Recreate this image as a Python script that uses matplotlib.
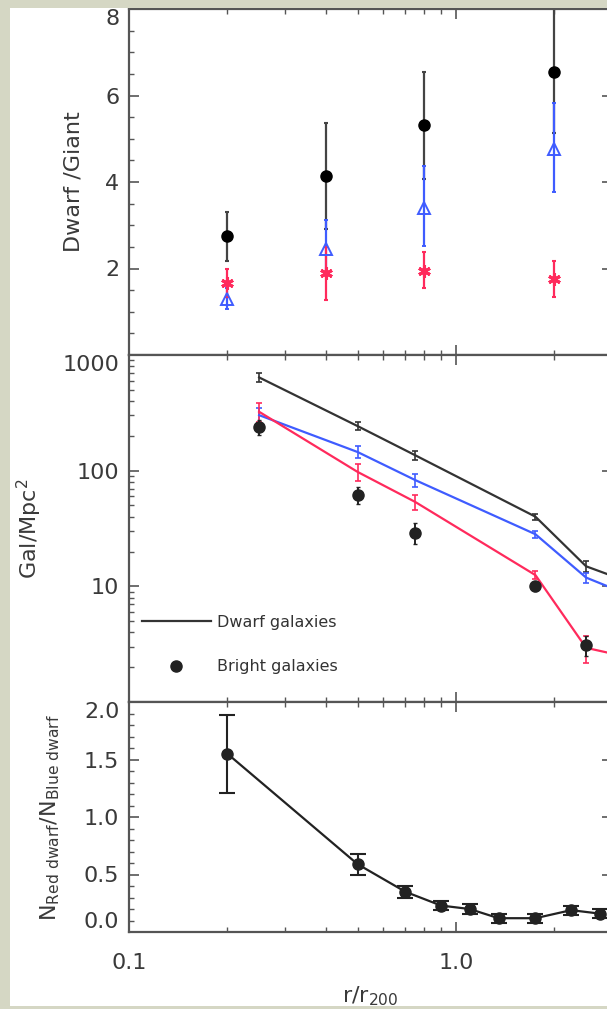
import numpy as np
import matplotlib
matplotlib.use("Agg")
import matplotlib.pyplot as plt
from matplotlib.patches import Rectangle
from matplotlib.ticker import FixedLocator, FixedFormatter, MultipleLocator, NullFormatter

plt.rcParams['font.family'] = ['DejaVu Sans']

# top panel: dwarf/giant ratio
x_ratio = [0.2, 0.4, 0.8, 2.0]
all_ratio = [2.74, 4.15, 5.31, 6.54]
all_lo = [2.17, 2.92, 4.08, 5.13]
all_hi = [3.30, 5.37, 6.54, 8.30]
blue_ratio = [1.29, 2.44, 3.41, 4.76]
blue_lo = [1.06, 1.89, 2.52, 3.78]
blue_hi = [1.55, 3.12, 4.37, 5.83]
red_ratio = [1.67, 1.89, 1.95, 1.76]
red_lo = [1.35, 1.27, 1.54, 1.35]
red_hi = [2.00, 2.50, 2.37, 2.18]

# middle panel: surface density
x_dens = [0.25, 0.5, 0.75, 1.75, 2.5, 3.5]
dwarf_dens = [640, 243, 136, 40, 14.9, 10.5]
dwarf_err = [60, 20, 12, 2.5, 1.5, 1.0]
blue_dens = [302, 145, 83, 28.2, 11.9, 8.1]
blue_err = [45, 17, 11, 2.0, 1.2, 1.0]
red_dens = [323, 97.6, 53.7, 12.5, 2.94, 2.38]
red_err = [60, 16, 8, 1.0, 0.75, 0.5]
x_bright = [0.25, 0.5, 0.75, 1.75, 2.5]
bright_dens = [240, 62, 29.2, 10.1, 3.1]
bright_lo = [205, 52, 23.4, 9.2, 2.5]
bright_hi = [274, 72, 35.4, 11.0, 3.7]

# bottom panel: red/blue dwarf ratio
x_frac = [0.2, 0.5, 0.7, 0.9, 1.1, 1.35, 1.75, 2.25, 2.75]
frac = [1.55, 0.59, 0.35, 0.23, 0.20, 0.12, 0.12, 0.19, 0.16]
frac_err = [0.34, 0.09, 0.05, 0.04, 0.04, 0.04, 0.04, 0.04, 0.04]

x_major = [0.1, 1.0]
x_major_labels = ["0.1", "1.0"]
x_minor = [0.2, 0.3, 0.4, 0.5, 0.6, 0.7, 0.8, 0.9, 2.0, 3.0]

c_blue = '#3f5cff'
c_red = '#ff2a5c'
c_axis = '#555555'
c_text = '#3a3a3a'
c_band = '#d5d7c4'

fig = plt.figure(figsize=(6.07, 10.09), dpi=100)
fig.patch.set_facecolor('white')
# grey frame around the picture (drawn above the axes, it clips the edges)
fig.patches.append(Rectangle((0, 0), 10/607, 1, transform=fig.transFigure,
                             facecolor=c_band, edgecolor='none', zorder=20))
fig.patches.append(Rectangle((0, 1 - 8/1009), 1, 8/1009, transform=fig.transFigure,
                             facecolor=c_band, edgecolor='none', zorder=20))
fig.patches.append(Rectangle((0, 0), 1, 3/1009, transform=fig.transFigure,
                             facecolor=c_band, edgecolor='none', zorder=20))

left = 129/607
width = 483/607
ax1 = fig.add_axes([left, (1009-355)/1009, width, 346/1009])
ax2 = fig.add_axes([left, (1009-702)/1009, width, 347/1009], sharex=ax1)
ax3 = fig.add_axes([left, (1009-932)/1009, width, 230/1009], sharex=ax1)

for ax in (ax1, ax2, ax3):
    ax.set_xscale('log')
    for s in ax.spines.values():
        s.set_color(c_axis)
        s.set_linewidth(1.6)
    ax.tick_params(which='both', direction='in', top=True, right=True,
                   colors=c_axis, labelcolor=c_text, labelsize=16, pad=7)
    ax.tick_params(which='major', length=7, width=1.2)
    ax.tick_params(which='minor', length=3.5, width=1.0)

ax1.xaxis.set_major_locator(FixedLocator(x_major))
ax1.xaxis.set_major_formatter(FixedFormatter(x_major_labels))
ax1.xaxis.set_minor_locator(FixedLocator(x_minor))
ax1.xaxis.set_minor_formatter(NullFormatter())
ax1.set_xlim(0.1, 3.0)

# panel 1
ek = dict(capsize=1.5, capthick=1.5, elinewidth=1.6, linestyle='none')
ax1.errorbar(x_ratio, all_ratio,
             yerr=[np.subtract(all_ratio, all_lo), np.subtract(all_hi, all_ratio)],
             fmt='o', color='#444444', mfc='black', mec='black', ms=8, **ek)
ax1.errorbar(x_ratio, blue_ratio,
             yerr=[np.subtract(blue_ratio, blue_lo), np.subtract(blue_hi, blue_ratio)],
             fmt='^', color=c_blue, mfc='none', mec=c_blue, ms=8, mew=1.4, **ek)
ax1.errorbar(x_ratio, red_ratio,
             yerr=[np.subtract(red_ratio, red_lo), np.subtract(red_hi, red_ratio)],
             fmt='none', color=c_red, **ek)
ax1.plot(x_ratio, red_ratio, linestyle='none', marker=(6, 2, 0), color=c_red, ms=9, mew=2.2)
ax1.set_ylim(0, 8)
ax1.yaxis.set_major_locator(FixedLocator([2, 4, 6, 8]))
ax1.yaxis.set_minor_locator(MultipleLocator(0.5))
ax1.set_ylabel("Dwarf /Giant", fontsize=16, color=c_text, va='center')
ax1.yaxis.set_label_coords(-0.114, 0.5)
ax1.tick_params(axis='x', labelbottom=False)

# panel 2
ek2 = dict(capsize=2.2, capthick=1.2, elinewidth=1.2)
ax2.errorbar(x_dens, dwarf_dens, yerr=dwarf_err, color='#333333', lw=1.6, **ek2, label='Dwarf galaxies')
ax2.errorbar(x_dens, blue_dens, yerr=blue_err, color=c_blue, lw=1.6, **ek2)
ax2.errorbar(x_dens, red_dens, yerr=red_err, color=c_red, lw=1.6, **ek2)
ax2.errorbar(x_bright, bright_dens,
             yerr=[np.subtract(bright_dens, bright_lo), np.subtract(bright_hi, bright_dens)],
             fmt='o', color='#222222', ms=8, capsize=1.5, elinewidth=1.4, linestyle='none',
             label='Bright galaxies')
ax2.set_yscale('log')
ax2.set_ylim(1, 1000)
ax2.yaxis.set_major_locator(FixedLocator([10, 100, 1000]))
ax2.yaxis.set_major_formatter(FixedFormatter(["10", "100", "1000"]))
ax2.yaxis.set_minor_locator(FixedLocator([k * 10**e for e in range(0, 3) for k in range(2, 10)]))
ax2.yaxis.set_minor_formatter(NullFormatter())
ax2.set_ylabel("Gal/Mpc$^2$", fontsize=16, color=c_text, va='center')
ax2.yaxis.set_label_coords(-0.207, 0.5)
ax2.tick_params(axis='x', labelbottom=False)
h, l = ax2.get_legend_handles_labels()
leg = ax2.legend([h[0][0], h[1][0]], l, loc='center left', bbox_to_anchor=(0.027, 0.166),
                 frameon=False, fontsize=11.5, handlelength=4.3, handletextpad=0.4,
                 labelspacing=1.85, borderpad=0, borderaxespad=0)
for t in leg.get_texts():
    t.set_color('#333333')

# panel 3
ax3.errorbar(x_frac, frac, yerr=frac_err, fmt='-o', color='#222222', ms=8, lw=1.6,
             capsize=5.5, capthick=1.5, elinewidth=1.5)
ax3.set_ylim(0, 2.0)
ax3.yaxis.set_major_locator(FixedLocator([0.0, 0.5, 1.0, 1.5, 2.0]))
ax3.yaxis.set_major_formatter(FixedFormatter(["0.0", "0.5", "1.0", "1.5", "2.0"]))
ax3.yaxis.set_minor_locator(MultipleLocator(0.1))
ax3.set_ylabel(r"N$_{\rm Red\ dwarf}$/N$_{\rm Blue\ dwarf}$", fontsize=16, color=c_text, va='center')
ax3.yaxis.set_label_coords(-0.164, 0.5)
ax3.tick_params(axis='x', pad=15)
ax3.set_xlabel("r/r$_{200}$", fontsize=16, color=c_text, labelpad=8)

# end labels sit inside the axis range, as in the original
fig.canvas.draw()
for ax in (ax1, ax2, ax3):
    ticks = ax.yaxis.get_major_ticks()
    ticks[-1].label1.set_va('top')
ax3.yaxis.get_major_ticks()[0].label1.set_va('bottom')

fig.savefig("out.png", dpi=100)
